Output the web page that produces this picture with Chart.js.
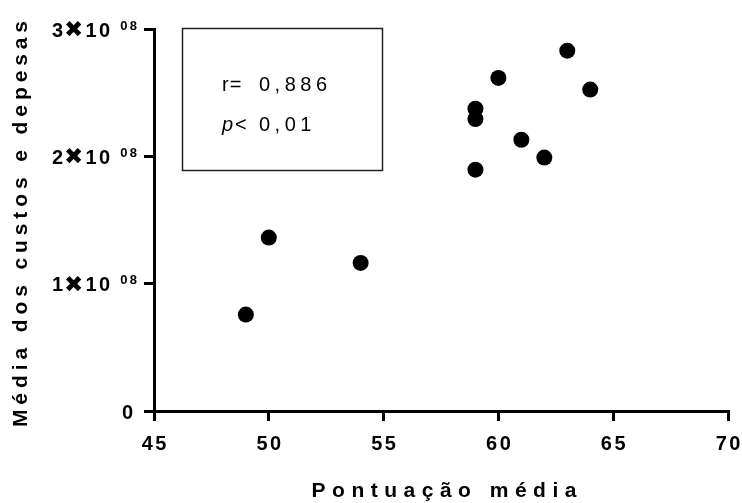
<!DOCTYPE html>
<html>
<head>
<meta charset="utf-8">
<script src="https://cdn.jsdelivr.net/npm/chart.js@4/dist/chart.umd.min.js"></script>
<style>
  html, body { margin: 0; padding: 0; background: #fff; }
  canvas { display: block; }
</style>
</head>
<body>
<canvas id="chart" width="742" height="503"></canvas>
<script>
// Average score per unit and the mean of its costs and expenses
const scores = [49, 50, 54, 59, 59, 59, 60, 61, 62, 63, 64];
const costs = [0.757e8, 1.362e8, 1.163e8, 1.895e8, 2.293e8, 2.374e8, 2.616e8, 2.13e8, 1.99e8, 2.83e8, 2.524e8];

// Axis ticks and their printed labels
const xTicks = [45, 50, 55, 60, 65, 70];
const yTicks = [0, 1e8, 2e8, 3e8];
const yMantissas = ['0', '1', '2', '3'];
const yExponent = '08';

const xTitle = 'Pontuação média';
const yTitle = 'Média dos custos e depesas';
const statRLabel = 'r=';
const statRValue = '0,886';
const statPLabel = 'p';
const statPValue = '0,01';

const FAMILY = '"Liberation Sans", Arial, Helvetica, sans-serif';

function spacedText(ctx, text, x, y, spacing, align) {
  ctx.letterSpacing = spacing + 'px';
  const w = ctx.measureText(text).width - spacing;
  let x0 = x;
  if (align === 'center') x0 = x - w / 2;
  else if (align === 'right') x0 = x - w;
  ctx.textAlign = 'left';
  ctx.fillText(text, x0, y);
  ctx.letterSpacing = '0px';
  return w;
}

const labelsPlugin = {
  id: 'labels',
  afterDraw(chart) {
    const ctx = chart.ctx;
    const xs = chart.scales.x, ys = chart.scales.y;
    const area = chart.chartArea;
    ctx.save();
    ctx.fillStyle = '#000';
    ctx.textBaseline = 'middle';

    // x tick labels
    ctx.font = 'bold 20px ' + FAMILY;
    xTicks.forEach(v => {
      spacedText(ctx, String(v), xs.getPixelForValue(v), area.bottom + 33, 2.5, 'center');
    });

    // y tick labels: "n✖10" with raised exponent
    yTicks.forEach((v, i) => {
      const py = ys.getPixelForValue(v);
      ctx.font = 'bold 20px ' + FAMILY;
      if (v === 0) {
        spacedText(ctx, yMantissas[i], area.left - 21, py + 2, 0, 'right');
        return;
      }
      let x = 52;
      x += spacedText(ctx, yMantissas[i], x, py + 2, 0, 'left') + 1;
      ctx.font = 'bold 23px "DejaVu Sans", sans-serif';
      x += spacedText(ctx, '\u2716', x, py + 2, 0, 'left') + 2;
      ctx.font = 'bold 20px ' + FAMILY;
      x += spacedText(ctx, '10', x, py + 2, 2.5, 'left') + 10;
      ctx.font = 'bold 13px ' + FAMILY;
      spacedText(ctx, yExponent, x, py - 3, 2.5, 'left');
    });

    // axis titles
    ctx.font = 'bold 21px ' + FAMILY;
    spacedText(ctx, xTitle, (area.left + area.right) / 2 + 3, 491, 6.5, 'center');
    ctx.save();
    ctx.translate(21, (area.top + area.bottom) / 2 + 4);
    ctx.rotate(-Math.PI / 2);
    spacedText(ctx, yTitle, 0, 0, 4.9, 'center');
    ctx.restore();

    // statistics box
    const bx = area.left + 28, by = area.top - 1;
    ctx.strokeStyle = '#222';
    ctx.lineWidth = 1.5;
    ctx.strokeRect(bx + 0.5, by + 0.5, 200, 142);
    const lx = bx + 40, vx = bx + 77;
    ctx.font = '20px ' + FAMILY;
    spacedText(ctx, statRLabel, lx, by + 57, 1, 'left');
    spacedText(ctx, statRValue, vx, by + 57, 4.5, 'left');
    ctx.font = 'italic 20px ' + FAMILY;
    const pw = spacedText(ctx, statPLabel, lx, by + 97, 0, 'left');
    ctx.font = '20px ' + FAMILY;
    spacedText(ctx, '<', lx + pw + 2, by + 97, 0, 'left');
    spacedText(ctx, statPValue, vx, by + 97, 4.5, 'left');

    ctx.restore();
  }
};

const axisStyle = {
  grid: { drawOnChartArea: false, drawTicks: true, tickLength: 10, lineWidth: 3, color: '#000' },
  border: { display: true, width: 3, color: '#000' }
};

new Chart(document.getElementById('chart'), {
  type: 'scatter',
  data: {
    datasets: [{
      data: scores.map((s, i) => ({ x: s, y: costs[i] })),
      pointRadius: 8,
      pointHoverRadius: 8,
      backgroundColor: '#000',
      borderColor: '#000',
      borderWidth: 0
    }]
  },
  options: {
    responsive: false,
    animation: false,
    layout: { padding: { top: 29, right: 14, left: 0, bottom: 0 } },
    plugins: { legend: { display: false }, tooltip: { enabled: false } },
    scales: {
      x: {
        type: 'linear', min: 45, max: 70,
        ticks: { stepSize: 5, display: false },
        ...axisStyle,
        afterFit(s) { s.height = 92; }
      },
      y: {
        type: 'linear', min: 0, max: 3e8,
        ticks: { stepSize: 1e8, display: false },
        ...axisStyle,
        afterFit(s) { s.width = 154; }
      }
    }
  },
  plugins: [labelsPlugin]
});
</script>
</body>
</html>
